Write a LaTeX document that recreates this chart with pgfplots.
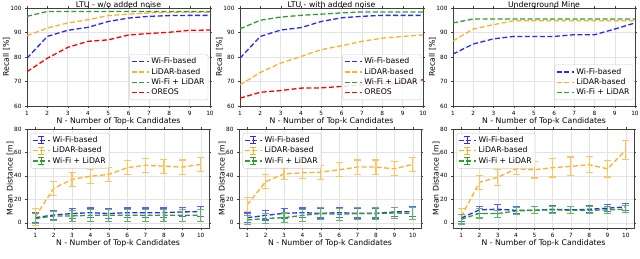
\documentclass[border=0pt]{standalone}
\usepackage{pgfplots}
\pgfplotsset{compat=1.18}
\usepackage{pgfplotstable}
\usepackage{fontspec}
\setmainfont{DejaVu Sans}
\definecolor{cblue}{RGB}{40,40,255}
\definecolor{corange}{RGB}{255,176,40}
\definecolor{cgreen}{RGB}{44,160,44}
\definecolor{cred}{RGB}{255,0,0}

% Recall tables
\pgfplotstableread{
x wifi lidar fus oreos
1 79.5 88.7 96.6 74.0
2 88.4 91.8 98.6 79.5
3 90.9 93.9 98.6 83.9
4 92.1 95.2 98.6 86.4
5 94.5 96.9 98.6 87.0
6 95.9 97.5 98.6 89.0
7 96.6 98.0 98.6 89.6
8 96.9 98.2 98.6 90.1
9 97.0 98.3 98.6 90.9
10 97.0 98.3 98.6 91.0
}\recA
\pgfplotstableread{
x wifi lidar fus oreos
1 79.5 68.6 91.5 63.2
2 88.4 73.7 95.0 65.6
3 91.0 77.5 96.3 66.3
4 92.0 80.2 97.0 67.3
5 94.5 83.0 97.5 67.4
6 96.0 84.6 98.0 68.0
7 96.6 86.4 98.4 68.6
8 97.0 87.7 98.4 69.0
9 97.0 88.4 98.4 69.6
10 97.0 89.0 98.4 70.7
}\recB
\pgfplotstableread{
x wifi lidar fus
1 81.2 86.6 93.9
2 85.3 91.4 95.5
3 87.4 93.2 95.5
4 88.4 94.8 95.5
5 88.4 94.8 95.5
6 88.4 94.8 95.5
7 89.1 94.8 95.5
8 89.1 94.8 95.5
9 91.4 94.8 95.5
10 93.9 94.8 95.5
}\recC
% Mean distance tables
\pgfplotstableread{
x wifi we lidar le fus fe
1 4.3 4 5.0 7 3.5 4
2 6.6 4 29.3 6 5.8 4
3 7.8 4 37.0 6 5.8 5
4 8.6 4 39.7 6 6.3 5
5 7.8 4 41.2 6 6.3 5
6 8.6 4 47.0 6 6.3 5
7 8.6 4 49.0 6 6.3 5
8 8.6 4 48.3 6 6.3 5
9 9.2 4 47.5 6 6.3 5
10 9.5 4 49.8 6 6.3 5
}\disA
\pgfplotstableread{
x wifi we lidar le fus fe
1 4.3 4 15.3 6 2.3 4
2 6.3 4 35.1 6 3.7 4
3 8.0 4 41.7 5 4.3 4
4 8.6 4 42.6 5 6.3 5
5 8.0 4 43.2 6 7.8 5
6 8.6 4 45.2 6 7.2 5
7 8.0 4 47.5 6 7.8 5
8 8.0 4 47.5 6 7.8 5
9 9.2 4 46.0 6 8.3 5
10 9.5 4 49.8 6 8.0 5
}\disB
\pgfplotstableread{
x wifi we lidar le fus fe
1 4.0 3 5.2 7 2.9 4
2 11.0 3 34.5 6 8.0 4
3 11.5 4 38.8 7 7.8 3
4 10.6 3 46.0 5 10.0 3
5 10.6 3 45.2 7 10.6 3
6 11.5 3 47.0 8 11.0 3
7 11.0 3 48.1 8 10.6 3
8 11.5 3 49.5 7 10.6 3
9 12.4 3 46.0 7 11.0 3
10 13.5 3 61.9 8 11.5 3
}\disC

\pgfplotsset{
  base/.style={
    scale only axis, anchor=south west,
    grid=major, grid style={gray!22, line width=0.4pt},
    axis line style={black!75},
    tick align=outside, major tick length=2bp, tick style={black!75},
    tick label style={font=\fontsize{5.8}{6.5}\selectfont},
    xticklabel style={yshift=0.5bp},
    label style={font=\fontsize{7.8}{9}\selectfont},
    /pgf/number format/assume math mode=true,
    xtick={1,...,10},
    xlabel={N - Number of Top-k Candidates},
    xlabel style={yshift=5bp},
    ylabel style={yshift=-4bp, inner sep=1bp},
    legend cell align=left,
    legend style={font=\fontsize{7.8}{9}\selectfont, draw=gray!40, rounded corners=2pt, fill=white, fill opacity=0.85, text opacity=1, row sep=-1bp, inner sep=1.5bp},
  },
  rec/.style={base, width=183bp, height=98bp, xmin=1, xmax=10, ymin=60, ymax=100,
    ytick={60,70,80,90,100}, ylabel={Recall [\%]},
    title style={font=\fontsize{7.8}{9}\selectfont, at={(0.5,1)}, anchor=base, yshift=-5bp, inner sep=0pt},
    legend style={at={(0.99,0.06)}, anchor=south east}},
  dis/.style={base, width=182bp, height=99bp, xmin=0.55, xmax=10.45, ymin=-4.5, ymax=80,
    ytick={0,20,40,60,80}, ylabel={Mean Distance [m]},
    legend style={at={(0.02,0.96)}, anchor=north west}},
  ln/.style={line width=1.3bp, dash pattern=on 5bp off 2.5bp, no marks},
  eb/.style={error bars/.cd, y dir=both, y explicit,
    error bar style={solid, line width=1.1bp, draw=#1!75},
    error mark=-,
    error mark options={solid, rotate=90, line width=1.1bp, draw=#1!75, mark size=3.5bp}},
  errleg/.style={legend image code/.code={
    \draw[##1] (0cm,0cm) -- (0.6cm,0cm);
    \draw[##1, solid, line width=1.1bp] (0.3cm,-3.5bp) -- (0.3cm,3.5bp);
    \draw[##1, solid, line width=1.1bp] (0.3cm-3bp,-3.5bp) -- (0.3cm+3bp,-3.5bp);
    \draw[##1, solid, line width=1.1bp] (0.3cm-3bp,3.5bp) -- (0.3cm+3bp,3.5bp);
  }},
}

\begin{document}
\begin{tikzpicture}
\path[use as bounding box] (0bp,0bp) rectangle (640bp,259bp);

% ---------- Top row ----------
\begin{axis}[rec, at={(27bp,153bp)}, title={LTU - w/o added noise}]
\addplot[ln, cblue] table[x=x,y=wifi]{\recA};
\addlegendentry{Wi-Fi-based}
\addplot[ln, corange] table[x=x,y=lidar]{\recA};
\addlegendentry{LiDAR-based}
\addplot[ln, cgreen] table[x=x,y=fus]{\recA};
\addlegendentry{Wi-Fi + LiDAR}
\addplot[ln, cred] table[x=x,y=oreos]{\recA};
\addlegendentry{OREOS}
\end{axis}

\begin{axis}[rec, at={(240bp,153bp)}, title={LTU - with added noise}]
\addplot[ln, cblue] table[x=x,y=wifi]{\recB};
\addlegendentry{Wi-Fi-based}
\addplot[ln, corange] table[x=x,y=lidar]{\recB};
\addlegendentry{LiDAR-based}
\addplot[ln, cgreen] table[x=x,y=fus]{\recB};
\addlegendentry{Wi-Fi + LiDAR}
\addplot[ln, cred] table[x=x,y=oreos]{\recB};
\addlegendentry{OREOS}
\end{axis}

\begin{axis}[rec, width=182bp, at={(453bp,153bp)}, title={Underground Mine}]
\addplot[ln, cblue] table[x=x,y=wifi]{\recC};
\addlegendentry{Wi-Fi-based}
\addplot[ln, corange] table[x=x,y=lidar]{\recC};
\addlegendentry{LiDAR-based}
\addplot[ln, cgreen] table[x=x,y=fus]{\recC};
\addlegendentry{Wi-Fi + LiDAR}
\end{axis}

% ---------- Bottom row ----------
\begin{axis}[dis, at={(27bp,31bp)}]
\addplot[ln, cblue, errleg, eb=cblue] table[x=x,y=wifi,y error=we]{\disA};
\addlegendentry{Wi-Fi-based}
\addplot[ln, corange, errleg, eb=corange] table[x=x,y=lidar,y error=le]{\disA};
\addlegendentry{LiDAR-based}
\addplot[ln, cgreen, errleg, eb=cgreen] table[x=x,y=fus,y error=fe]{\disA};
\addlegendentry{Wi-Fi + LiDAR}
\end{axis}

\begin{axis}[dis, at={(239bp,31bp)}]
\addplot[ln, cblue, errleg, eb=cblue] table[x=x,y=wifi,y error=we]{\disB};
\addlegendentry{Wi-Fi-based}
\addplot[ln, corange, errleg, eb=corange] table[x=x,y=lidar,y error=le]{\disB};
\addlegendentry{LiDAR-based}
\addplot[ln, cgreen, errleg, eb=cgreen] table[x=x,y=fus,y error=fe]{\disB};
\addlegendentry{Wi-Fi + LiDAR}
\end{axis}

\begin{axis}[dis, width=181bp, at={(453bp,31bp)}]
\addplot[ln, cblue, errleg, eb=cblue] table[x=x,y=wifi,y error=we]{\disC};
\addlegendentry{Wi-Fi-based}
\addplot[ln, corange, errleg, eb=corange] table[x=x,y=lidar,y error=le]{\disC};
\addlegendentry{LiDAR-based}
\addplot[ln, cgreen, errleg, eb=cgreen] table[x=x,y=fus,y error=fe]{\disC};
\addlegendentry{Wi-Fi + LiDAR}
\end{axis}
\end{tikzpicture}
\end{document}
